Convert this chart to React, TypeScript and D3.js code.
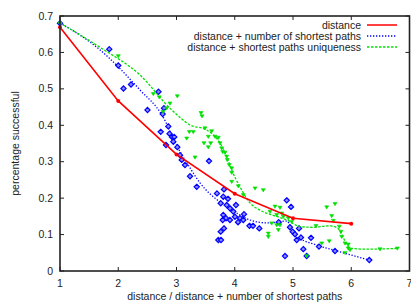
import * as d3 from 'd3';

// tick labels
const xTicks = [1, 2, 3, 4, 5, 6, 7];
const yTicks = [0, 0.1, 0.2, 0.3, 0.4, 0.5, 0.6, 0.7];

const seriesNames = [
  'distance',
  'distance + number of shortest paths',
  'distance + shortest paths uniqueness',
];

// distance (red, solid)
const distX = [1, 2, 3, 4, 5, 6];
const distY = [0.669, 0.467, 0.32, 0.212, 0.145, 0.13];

// distance + number of shortest paths (blue), scatter points
const numX = [1, 1.846, 2.001, 2.09, 2.219, 2.691, 2.502, 2.785, 2.763, 2.729, 2.859, 2.88, 2.923, 2.962, 2.82, 3.014, 2.945,
  3.06, 3.089, 3.146, 3.232, 3.347, 3.558, 3.695, 3.815, 3.803, 3.759, 3.862, 3.918, 3.975, 3.803, 3.85, 3.793, 3.918,
  4.004, 4.09, 4.147, 3.815, 3.759, 3.718, 3.764, 4.253, 4.313, 4.421, 4.755, 4.892, 4.966, 4.863, 4.948, 4.995, 5.034,
  5.103, 5.064, 5.137, 5.309, 5.177, 5.235, 5.446, 5.721, 6.31, 3.884, 4.021, 4.159, 4.056];
const numY = [0.68, 0.609, 0.564, 0.501, 0.512, 0.492, 0.442, 0.447, 0.431, 0.382, 0.397, 0.377, 0.368, 0.368, 0.346, 0.34, 0.355,
  0.318, 0.305, 0.291, 0.26, 0.231, 0.302, 0.213, 0.224, 0.204, 0.186, 0.181, 0.172, 0.163, 0.154, 0.145, 0.14, 0.14,
  0.149, 0.145, 0.14, 0.117, 0.108, 0.085, 0.085, 0.124, 0.124, 0.117, 0.134, 0.194, 0.176, 0.041, 0.12, 0.108, 0.101,
  0.117, 0.085, 0.092, 0.091, 0.06, 0.041, 0.067, 0.055, 0.03, 0.198, 0.181, 0.156, 0.134];
// its smoothed curve
const numCurveX = [1, 1.687, 2.373, 2.751, 3.026, 3.232, 3.403, 3.747, 4.004, 4.262, 4.554, 4.897, 4.948, 5.034, 5.412, 5.755, 6.305];
const numCurveY = [0.681, 0.607, 0.497, 0.428, 0.338, 0.283, 0.242, 0.189, 0.162, 0.14, 0.132, 0.137, 0.126, 0.099, 0.071, 0.055, 0.03];

// distance + shortest paths uniqueness (green), scatter points
const uniqX = [1, 2.001, 2.602, 2.705, 3.014, 2.888, 2.832, 2.768, 3.421, 3.438, 3.22, 3.288, 3.489, 3.604, 3.546, 3.661, 3.718,
  3.472, 3.587, 3.546, 3.747, 3.776, 3.793, 3.833, 3.862, 3.872, 3.906, 3.948, 3.175, 3.318, 3.948, 3.948, 4.061, 4.147,
  4.348, 4.49, 4.691, 4.777, 4.605, 4.72, 4.806, 4.833, 4.919, 4.634, 4.72, 4.777, 4.576, 4.748, 4.978, 5.579, 5.721,
  5.664, 5.692, 5.395, 5.795, 5.824, 5.836, 5.893, 5.949, 5.949, 5.979, 5.623, 5.493, 5.893, 6.494, 6.791, 5.235, 4.576];
const uniqY = [0.68, 0.59, 0.486, 0.477, 0.48, 0.46, 0.447, 0.437, 0.434, 0.425, 0.382, 0.382, 0.392, 0.384, 0.369, 0.369, 0.366,
  0.351, 0.351, 0.34, 0.351, 0.337, 0.327, 0.325, 0.314, 0.305, 0.291, 0.282, 0.364, 0.312, 0.27, 0.245, 0.233, 0.209,
  0.227, 0.222, 0.177, 0.174, 0.163, 0.154, 0.158, 0.149, 0.145, 0.131, 0.126, 0.126, 0.103, 0.113, 0.135, 0.175, 0.184,
  0.151, 0.138, 0.124, 0.122, 0.108, 0.094, 0.076, 0.073, 0.062, 0.058, 0.082, 0.076, 0.05, 0.06, 0.062, 0.041, 0.094];
const uniqCurveX = [1, 1.687, 2.373, 2.918, 3.232, 3.519, 3.747, 3.862, 3.948, 4.09, 4.262, 4.433, 4.639, 4.897, 5.12, 5.343,
  5.635, 5.773, 5.841, 5.927, 6.013, 6.27, 6.803];
const uniqCurveY = [0.681, 0.614, 0.538, 0.442, 0.401, 0.387, 0.351, 0.314, 0.277, 0.231, 0.187, 0.167, 0.154, 0.14, 0.122, 0.12,
  0.124, 0.117, 0.099, 0.071, 0.062, 0.06, 0.062];

const W = 411;
const H = 303;
const left = 60, right = 409.5, top = 16, bottom = 271;
const font = 'Liberation Sans, Arial, sans-serif';
const RED = '#ff0000', BLUE = '#0000ff', GREEN = '#00e000';

export default function App() {
  const x = d3.scaleLinear().domain([1, 7]).range([left, right]);
  const y = d3.scaleLinear().domain([0, 0.7]).range([bottom, top]);

  const smooth = d3.line<[number, number]>()
    .x(d => x(d[0]))
    .y(d => y(d[1]))
    .curve(d3.curveMonotoneX);
  const straight = d3.line<[number, number]>()
    .x(d => x(d[0]))
    .y(d => y(d[1]));

  const zip = (a: number[], b: number[]) => a.map((v, i) => [v, b[i]] as [number, number]);
  const dist = zip(distX, distY);
  const num = zip(numX, numY);
  const uniq = zip(uniqX, uniqY);

  const legY = [25, 36, 47];

  return (
    <svg width={W} height={H} style={{ position: 'absolute', left: 0, top: 0, background: '#fff' }}
      fontFamily={font}>
      <rect width={W} height={H} fill="#fff" />

      {/* blue curve + points */}
      <path d={smooth(zip(numCurveX, numCurveY)) || ''} fill="none" stroke={BLUE} strokeWidth={1.3}
        strokeDasharray="1.3,1.7" />
      {num.map((d, i) => {
        const cx = x(d[0]), cy = y(d[1]), r = 2.6;
        return <path key={'b' + i} d={`M${cx},${cy - r}L${cx + r},${cy}L${cx},${cy + r}L${cx - r},${cy}Z`}
          fill="#8c8cff" stroke={BLUE} strokeWidth={1.2} />;
      })}

      {/* green curve + points */}
      <path d={smooth(zip(uniqCurveX, uniqCurveY)) || ''} fill="none" stroke={GREEN} strokeWidth={1.3}
        strokeDasharray="2.5,1.5" />
      {uniq.map((d, i) => {
        const cx = x(d[0]), cy = y(d[1]);
        return <path key={'g' + i} d={`M${cx - 2},${cy - 1.4}L${cx + 2},${cy - 1.4}L${cx},${cy + 1.8}Z`}
          fill={GREEN} stroke={GREEN} strokeWidth={0.6} />;
      })}

      {/* red */}
      <path d={straight(dist) || ''} fill="none" stroke={RED} strokeWidth={1.6} />
      {dist.map((d, i) => (
        <circle key={'r' + i} cx={x(d[0])} cy={y(d[1])} r={2} fill={RED} />
      ))}

      {/* frame */}
      <rect x={left} y={top} width={right - left} height={bottom - top} fill="none" stroke="#222" strokeWidth={1.6} />
      {xTicks.map(t => (
        <g key={'xt' + t}>
          <line x1={x(t)} x2={x(t)} y1={bottom} y2={bottom - 4} stroke="#222" />
          <line x1={x(t)} x2={x(t)} y1={top} y2={top + 4} stroke="#222" />
          <text x={x(t)} y={287} fontSize={10.5} textAnchor="middle" fill="#222">{t}</text>
        </g>
      ))}
      {yTicks.map(t => (
        <g key={'yt' + t}>
          <line x1={left} x2={left + 4} y1={y(t)} y2={y(t)} stroke="#222" />
          <line x1={right} x2={right - 4} y1={y(t)} y2={y(t)} stroke="#222" />
          <text x={53} y={y(t) + 3.5} fontSize={10.5} textAnchor="end" fill="#222">{t === 0 ? '0' : t.toFixed(1)}</text>
        </g>
      ))}

      <text x={(left + right) / 2} y={300} fontSize={10.5} textAnchor="middle" fill="#222">
        distance / distance + number of shortest paths
      </text>
      <text transform={`translate(19,${(top + bottom) / 2}) rotate(-90)`} fontSize={10.5} textAnchor="middle" fill="#222">
        percentage successful
      </text>

      {/* legend */}
      {seriesNames.map((n, i) => (
        <g key={'l' + i}>
          <text x={361} y={legY[i] + 3.5} fontSize={10.5} textAnchor="end" fill="#222">{n}</text>
          <line x1={367} x2={397} y1={legY[i]} y2={legY[i]}
            stroke={[RED, BLUE, GREEN][i]} strokeWidth={1.5}
            strokeDasharray={i === 0 ? undefined : i === 1 ? '1.3,1.7' : '2.5,1.5'} />
        </g>
      ))}
    </svg>
  );
}
